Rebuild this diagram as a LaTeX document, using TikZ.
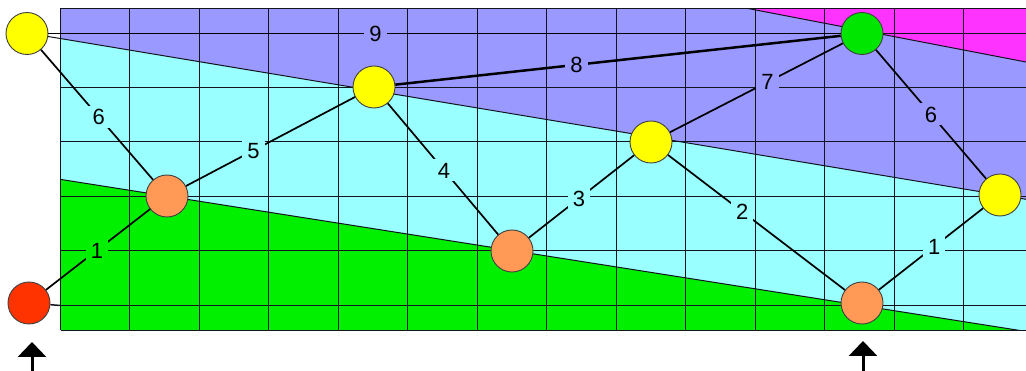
\documentclass[tikz,border=0pt]{standalone}
\usepackage{fontspec}
\setmainfont{Liberation Sans}
\usetikzlibrary{calc,arrows.meta}
\definecolor{cpurple}{RGB}{153,153,255}
\definecolor{ccyan}{RGB}{153,255,255}
\definecolor{cgreen}{RGB}{0,240,0}
\definecolor{cmag}{RGB}{255,51,255}
\definecolor{cyel}{RGB}{255,255,0}
\definecolor{corange}{RGB}{255,153,85}
\definecolor{cred}{RGB}{255,51,0}
\definecolor{cgnode}{RGB}{0,230,0}
\definecolor{cline}{RGB}{20,20,30}
\tikzset{
  gridline/.style={draw=cline, line width=1.5pt},
  border/.style={draw=cline, line width=1pt},
  vertex/.style={circle, draw=black!75, line width=0.9pt, minimum size=42pt, inner sep=0pt},
  edgeline/.style={draw=black, line width=1.7pt},
  boldedge/.style={draw=black, line width=2.5pt},
  lbl/.style={inner xsep=5pt, inner ysep=3pt, text height=15.7pt, text depth=0pt,
              font=\fontsize{22}{22}\selectfont},
  uparrow/.style={draw=black, line width=3pt, -{Triangle[width=28pt,length=15pt]}}
}
\begin{document}
\begin{tikzpicture}[x=1pt,y=-1pt]
\useasboundingbox (0,0) rectangle (1026,371);
% regions
\fill[ccyan] (60.5,8.5) rectangle (1026,330.5);
\fill[cpurple] (60.5,8.5) -- (1026,8.5) -- (1026,199.3) -- (60.5,38.5) -- cycle;
\fill[cmag] (748,8.5) -- (1026,8.5) -- (1026,62) -- cycle;
\fill[cgreen] (60.5,179.4) -- (1020,330.5) -- (60.5,330.5) -- cycle;
% region boundaries
\draw[border] (27,33) -- (1026,199.3);
\draw[border] (748,8.5) -- (1026,62);
\draw[border] (60.5,179.4) -- (1020,330.5);
% grid
\foreach \i in {0,...,13} \draw[gridline] ({int(60+69.5*\i)+0.5},8.5) -- ({int(60+69.5*\i)+0.5},330.5);
\foreach \y in {87.5,141.5,196.5,250.5,305.5} \draw[gridline] (60.5,\y) -- (1026,\y);
\draw[gridline] (60.5,8.5) -- (1026,8.5);
\draw[gridline] (60.5,330.5) -- (1026,330.5);
% nodes
\node[vertex, fill=cyel]    (A) at (27,33.5)   {};
\node[vertex, fill=cred]    (R) at (29,303)  {};
\node[vertex, fill=corange] (B) at (167,196) {};
\node[vertex, fill=cyel]    (C) at (374,87)  {};
\node[vertex, fill=corange] (D) at (512,251) {};
\node[vertex, fill=cyel]    (E) at (651,142) {};
\node[vertex, fill=cgnode]  (F) at (862,33.5)  {};
\node[vertex, fill=corange] (G) at (862,303) {};
\node[vertex, fill=cyel]    (H) at (1000,195) {};
\coordinate (rl) at (60.5,305.5);
\coordinate (fr) at (1026,33.5);
\draw[gridline] (R) -- (rl);
\draw[gridline] (F) -- (fr);
% edges with labels
\draw[edgeline] (A) -- node[lbl, pos=0.413, fill=cpurple] {9} (F);
\draw[boldedge] (C) -- node[lbl, pos=0.407, fill=cpurple] {8} (F);
\draw[edgeline] (E) -- node[lbl, pos=0.564, fill=cpurple] {7} (F);
\draw[edgeline] (A) -- node[lbl, pos=0.515, fill=ccyan] {6} (B);
\draw[edgeline] (B) -- node[lbl, pos=0.40, fill=ccyan] {5} (C);
\draw[edgeline] (C) -- node[lbl, pos=0.51, fill=ccyan] {4} (D);
\draw[edgeline] (D) -- node[lbl, pos=0.475, fill=ccyan] {3} (E);
\draw[edgeline] (E) -- node[lbl, pos=0.42, fill=ccyan] {2} (G);
\draw[edgeline] (R) -- node[lbl, pos=0.49, fill=cgreen] {1} (B);
\draw[edgeline] (F) -- node[lbl, pos=0.50, fill=cpurple] {6} (H);
\draw[edgeline] (G) -- node[lbl, pos=0.53, fill=ccyan] {1} (H);
% arrows
\coordinate (a1b) at (32,372);
\coordinate (a1t) at (32,342);
\coordinate (a2b) at (863,372);
\coordinate (a2t) at (863,341);
\draw[uparrow] (a1b) -- (a1t);
\draw[uparrow] (a2b) -- (a2t);
\end{tikzpicture}
\end{document}
